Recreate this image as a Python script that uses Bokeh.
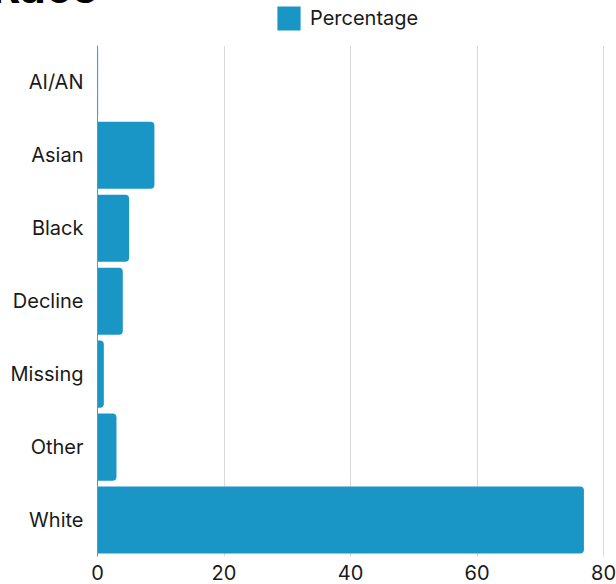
from bokeh.plotting import figure
from bokeh.models import (ColumnDataSource, Legend, LegendItem, FixedTicker,
                          Range1d, BoxAnnotation)
from bokeh.embed import file_html
from bokeh.resources import INLINE

# ---- data ----
categories = ["AI/AN", "Asian", "Black", "Decline", "Missing", "Other", "White"]
percentages = [0.1, 9.0, 5.0, 4.0, 1.0, 3.0, 76.9]
series_name = "Percentage"
x_ticks = [0, 20, 40, 60, 80]
title_text = "Race"

BAR_COLOR = "#1A96C6"
FONT = "Inter"
SHIFT = 28  # px of the canvas hidden above the window top

n = len(categories)
positions = [n - 1 - i for i in range(n)]          # first category on top
src = ColumnDataSource(dict(cat=categories, pos=positions, val=percentages))

p = figure(
    width=616, height=584 + SHIFT,
    y_range=Range1d(-0.5, n - 0.5 + 0.636),
    x_range=Range1d(0, 82.05),
    output_backend="svg", toolbar_location=None,
    min_border_left=97, min_border_right=0,
    min_border_top=0, min_border_bottom=28,
    outline_line_color=None,
    title=title_text,
)
p.styles = {"margin": f"-{SHIFT}px 0 0 0"}

r = p.hbar(y="pos", right="val", left=0, height=0.92, source=src,
           fill_color=BAR_COLOR, line_color=None,
           border_radius=(0, 4, 4, 0))

p.title.text_font = FONT
p.title.text_font_style = "bold"
p.title.text_font_size = "44px"
p.title.text_color = "#000000"
p.title.align = "left"
p.title.offset = -106
p.title.standoff = -29.4

p.ygrid.grid_line_color = None
p.xgrid.grid_line_color = "#d9d9d9"
p.xgrid.grid_line_width = 1
p.xgrid.ticker = FixedTicker(ticks=x_ticks[1:])
p.xaxis.ticker = FixedTicker(ticks=x_ticks)
p.yaxis.ticker = FixedTicker(ticks=positions)
p.yaxis.major_label_overrides = {pos: cat for pos, cat in zip(positions, categories)}
p.yaxis.bounds = (-0.5, n - 0.5)

for ax in (p.xaxis[0], p.yaxis[0]):
    ax.major_tick_line_color = None
    ax.minor_tick_line_color = None
    ax.major_tick_out = 0
    ax.major_tick_in = 0
    ax.minor_tick_out = 0
    ax.minor_tick_in = 0
    ax.major_label_text_font = FONT
    ax.major_label_text_font_size = "20px"
    ax.major_label_text_color = "#1a1a1a"
p.xaxis.axis_line_color = None
p.xaxis.major_label_standoff = 8
p.yaxis.axis_line_color = "#8a8a8a"
p.yaxis.major_label_standoff = 14

# white band above the category area (the header strip of the chart)
header = BoxAnnotation(bottom=n - 0.5, left=1, fill_color="white", fill_alpha=1,
                       line_color=None)
p.add_layout(header)

legend = Legend(
    items=[LegendItem(label=series_name, renderers=[r])],
    location=(177, 523), orientation="horizontal",
    glyph_width=29, glyph_height=30, label_standoff=7,
    label_text_font=FONT, label_text_font_size="20px", label_text_color="#1a1a1a",
    padding=0, margin=0, spacing=0,
    border_line_color=None, background_fill_alpha=0,
)
p.add_layout(legend)

open("out.html", "w").write(file_html(p, INLINE))
